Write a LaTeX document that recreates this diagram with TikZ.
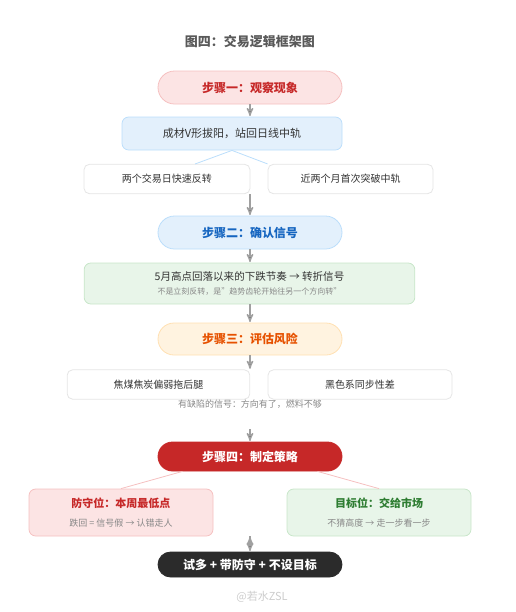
\documentclass[tikz,border=0pt]{standalone}
\usepackage{fontspec}
\setmainfont{Noto Sans CJK SC}
\usetikzlibrary{arrows,shapes.misc}

\definecolor{pinkfill}{HTML}{FCE4E4}
\definecolor{pinkline}{HTML}{F5C0C0}
\definecolor{redtext}{HTML}{C62828}
\definecolor{bluefill}{HTML}{E3F0FC}
\definecolor{blueline}{HTML}{BBDEFB}
\definecolor{bluetext}{HTML}{1565C0}
\definecolor{greenfill}{HTML}{E8F5E9}
\definecolor{greenline}{HTML}{C8E6C9}
\definecolor{greentext}{HTML}{2E7D32}
\definecolor{orangefill}{HTML}{FFF3E0}
\definecolor{orangeline}{HTML}{FFE0B2}
\definecolor{orangetext}{HTML}{E65100}
\definecolor{darkfill}{HTML}{2B2B2B}
\definecolor{arrowgray}{HTML}{A0A0A0}
\definecolor{bodytext}{HTML}{333333}
\definecolor{subtext}{HTML}{888888}

\begin{document}
\begin{tikzpicture}[x=0.75pt,y=-0.75pt,>=stealth',
    step node/.style={rounded rectangle,draw,line width=0.6pt,minimum width=138pt,
      minimum height=24.75pt,inner sep=0pt,font=\fontsize{9}{11}\selectfont\bfseries},
    plain box/.style={rectangle,rounded corners=4pt,draw=black!10,fill=white,line width=0.6pt,
      inner sep=0pt,minimum height=22pt,text=bodytext,font=\fontsize{7.5}{9}\selectfont},
    flow/.style={->,draw=arrowgray,line width=1.1pt,shorten >=0.5pt},
    split/.style={line width=0.6pt}]
\useasboundingbox (0,0) rectangle (516,612);

\node[text=black!65,font=\fontsize{9.75}{12}\selectfont\bfseries] (title) at (250,42) {图四：交易逻辑框架图};

% step one
\node[step node,fill=pinkfill,draw=pinkline,text=redtext] (step1) at (250,87.5) {步骤一：观察现象};
\node[rectangle,rounded corners=5pt,draw=blueline,fill=bluefill,line width=0.6pt,minimum width=165pt,
      minimum height=24.75pt,text=bodytext,font=\fontsize{8.25}{10}\selectfont] (obs) at (232,133.5) {成材V形拔阳，站回日线中轨};
\node[plain box,minimum width=124.5pt] (obsA) at (167,179) {两个交易日快速反转};
\node[plain box,minimum width=123.75pt] (obsB) at (350.5,179) {近两个月首次突破中轨};
\coordinate (obsAtop) at (195,164);

% step two
\node[step node,fill=bluefill,draw=blueline,text=bluetext] (step2) at (250,232.5) {步骤二：确认信号};
\node[rectangle,rounded corners=5pt,draw=greenline,fill=greenfill,line width=0.6pt,minimum width=248pt,
      minimum height=30.75pt,align=center] (signal) at (249.5,283.5)
  {{\color{bodytext}\fontsize{7.9}{10}\selectfont 5月高点回落以来的下跌节奏 → 转折信号}\\[-1pt]
   {\color{subtext}\fontsize{6}{8}\selectfont 不是立刻反转，是"趋势齿轮开始往另一个方向转"}};

% step three
\node[step node,fill=orangefill,draw=orangeline,text=orangetext,minimum height=24pt] (step3) at (250,339) {步骤三：评估风险};
\node[plain box,minimum width=137pt] (riskA) at (158.5,384.5) {焦煤焦炭偏弱拖后腿};
\node[plain box,minimum width=138pt] (riskB) at (360,384.5) {黑色系同步性差};
\node[text=subtext,font=\fontsize{6.75}{8}\selectfont] (caption) at (250,404) {有缺陷的信号：方向有了，燃料不够};
\coordinate (riskout) at (250,429);

% step four
\node[step node,fill=redtext,draw=redtext,text=white,minimum height=21.75pt] (step4) at (250,456.5) {步骤四：制定策略};
\node[rectangle,rounded corners=5pt,draw=pinkline,fill=pinkfill,line width=0.6pt,minimum width=138pt,
      minimum height=35.25pt,align=center] (defend) at (121,512.5)
  {{\color{redtext}\fontsize{8.25}{10}\selectfont\bfseries 防守位：本周最低点}\\[2pt]
   {\color{subtext}\fontsize{6.75}{8}\selectfont 跌回 = 信号假 → 认错走人}};
\node[rectangle,rounded corners=5pt,draw=greenline,fill=greenfill,line width=0.6pt,minimum width=138pt,
      minimum height=35.25pt,align=center] (target) at (379,512.5)
  {{\color{greentext}\fontsize{8.25}{10}\selectfont\bfseries 目标位：交给市场}\\[2pt]
   {\color{subtext}\fontsize{6.75}{8}\selectfont 不猜高度 → 走一步看一步}};

% result
\node[step node,fill=darkfill,draw=darkfill,text=white,minimum height=18.75pt] (final) at (250,564.5) {试多 + 带防守 + 不设目标};
\node[text=black!20,font=\fontsize{8.25}{10}\selectfont] (mark) at (262,597) {@若水ZSL};

\path[flow]
  (step1.south) edge (step1.south |- obs.north)
  (step2.north |- obsA.south) edge (step2.north)
  (step2.south) edge (step2.south |- signal.north)
  (step3.north |- signal.south) edge (step3.north)
  (step3.south) edge (step3.south |- riskA.north)
  (riskout) edge (step4.north)
  (final.north |- defend.south) edge (final.north);

\path[split,draw=blueline]
  (obs.south) edge (obsAtop)
              edge (obsB.north west);
\path[split,draw=pinkline]
  ([xshift=7.5pt]step4.south west) edge (defend.north)
  ([xshift=-7.5pt]step4.south east) edge (target.north);
\end{tikzpicture}
\end{document}
